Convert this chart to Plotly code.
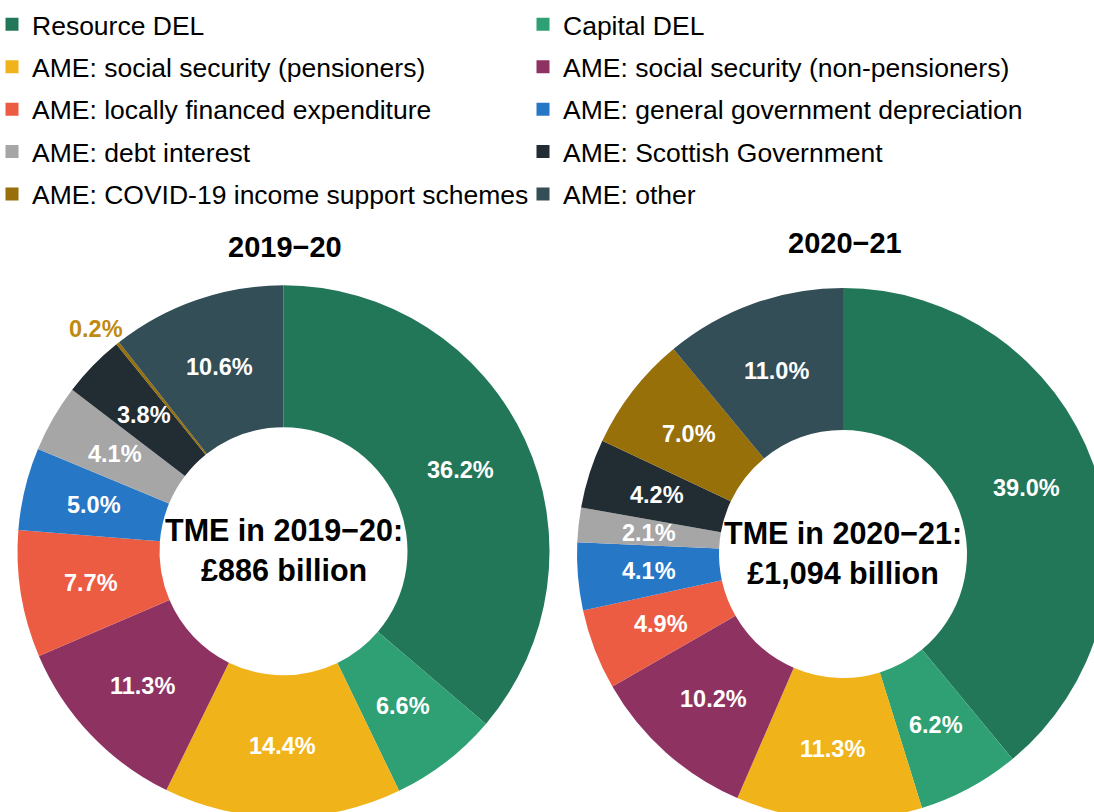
import math
import plotly.graph_objects as go

categories = [
    "Resource DEL",
    "Capital DEL",
    "AME: social security (pensioners)",
    "AME: social security (non-pensioners)",
    "AME: locally financed expenditure",
    "AME: general government depreciation",
    "AME: debt interest",
    "AME: Scottish Government",
    "AME: COVID-19 income support schemes",
    "AME: other",
]
share_2019_20 = [36.2, 6.6, 14.4, 11.3, 7.7, 5.0, 4.1, 3.8, 0.2, 10.6]
share_2020_21 = [39.0, 6.2, 11.3, 10.2, 4.9, 4.1, 2.1, 4.2, 7.0, 11.0]
colors = ["#237759", "#2FA074", "#F0B41A", "#8E3262", "#EC5C42",
          "#2777C7", "#A6A6A6", "#212D33", "#98700A", "#334E56"]
years = ["2019\u221220", "2020\u221221"]
centre_text = ["TME in 2019\u221220:<br>£886 billion",
               "TME in 2020\u221221:<br>£1,094 billion"]

FONT = "Liberation Sans, Arial, sans-serif"
W, H = 1112, 821


def px_x(v):
    return v / W


def px_y(v):
    return 1 - v / H


fig = go.Figure()

centres = [(283.5, 551.3), (843.0, 554.0)]
R = 266
R_HOLE = 124
annotations = []
for vals, (cx, cy) in zip([share_2019_20, share_2020_21], centres):
    fig.add_trace(go.Pie(
        labels=categories, values=vals, sort=False, direction="clockwise",
        rotation=0, hole=R_HOLE / R,
        marker=dict(colors=colors, line=dict(width=0)),
        textinfo="none", showlegend=False, automargin=False,
        hoverinfo="label+value",
        domain=dict(x=[px_x(cx - R), px_x(cx + R)],
                    y=[px_y(cy + R), px_y(cy - R)]),
    ))
    # percentage labels, placed at the middle of each slice
    total = sum(vals)
    cum = 0.0
    for v in vals:
        mid = (cum + v / 2) / total * 2 * math.pi
        cum += v
        small = v < 1
        rr = 291 if small else (R + R_HOLE) / 2
        annotations.append(dict(
            x=px_x(cx + rr * math.sin(mid)), y=px_y(cy - rr * math.cos(mid)),
            xref="paper", yref="paper", text=f"{v:.1f}%", showarrow=False,
            xanchor="center", yanchor="middle",
            xshift=-6 if small else 0, yshift=-5 if small else 0,
            font=dict(family=FONT, size=23.5,
                      color="#C08A10" if small else "white", weight="bold")))

# legend entries (two columns)
for i, (name, c) in enumerate(zip(categories, colors)):
    fig.add_trace(go.Scatter(
        x=[None], y=[None], mode="markers", name=name,
        marker=dict(symbol="square", size=13, color=c),
        legend="legend" if i % 2 == 0 else "legend2",
        legendgroup=name, hoverinfo="skip",
    ))

legend_common = dict(
    font=dict(family=FONT, size=26.5, color="#000000"),
    bgcolor="rgba(0,0,0,0)", borderwidth=0, orientation="v",
    tracegroupgap=5, yanchor="top", xanchor="left", itemclick=False,
)
for title, (cx, cy), ty, ct in zip(years, centres, [247, 243], centre_text):
    annotations.append(dict(
        x=px_x(cx + 1.5), y=px_y(ty), xref="paper", yref="paper", text=title,
        showarrow=False, xanchor="center", yanchor="middle",
        font=dict(family=FONT, size=29, color="#000000", weight="bold")))
    annotations.append(dict(
        x=px_x(cx), y=px_y(cy - 1), xref="paper", yref="paper", text=ct,
        showarrow=False, xanchor="center", yanchor="middle",
        font=dict(family=FONT, size=30.5, color="#000000", weight="bold")))

fig.update_layout(
    template="none", width=W, height=H,
    margin=dict(l=0, r=0, t=0, b=0, autoexpand=False),
    paper_bgcolor="white", plot_bgcolor="white",
    xaxis=dict(visible=False), yaxis=dict(visible=False),
    legend=dict(x=px_x(-8), y=px_y(0.5), **legend_common),
    legend2=dict(x=px_x(523), y=px_y(0.5), **legend_common),
    annotations=annotations,
)

fig.write_html(
    "out.html",
    config={"displayModeBar": False},
    post_script="document.body.style.margin='0';document.body.style.overflow='hidden';",
)
